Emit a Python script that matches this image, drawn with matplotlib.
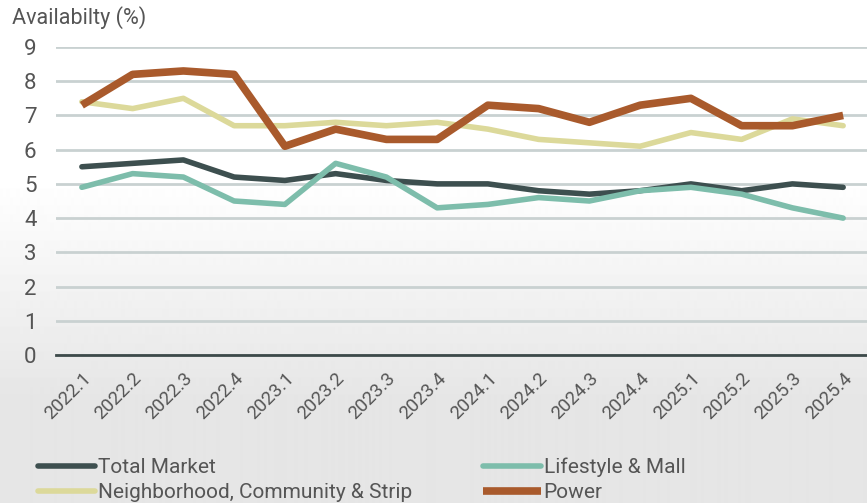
import matplotlib
matplotlib.use("Agg")
import matplotlib.pyplot as plt
import numpy as np

plt.rcParams['font.family'] = ['Roboto', 'DejaVu Sans']

# data
quarters = ['2022.1', '2022.2', '2022.3', '2022.4', '2023.1', '2023.2', '2023.3', '2023.4',
            '2024.1', '2024.2', '2024.3', '2024.4', '2025.1', '2025.2', '2025.3', '2025.4']
total_market = [5.5, 5.6, 5.7, 5.2, 5.1, 5.3, 5.1, 5.0, 5.0, 4.8, 4.7, 4.8, 5.0, 4.8, 5.0, 4.9]
lifestyle_mall = [4.9, 5.3, 5.2, 4.5, 4.4, 5.6, 5.2, 4.3, 4.4, 4.6, 4.5, 4.8, 4.9, 4.7, 4.3, 4.0]
neighborhood = [7.4, 7.2, 7.5, 6.7, 6.7, 6.8, 6.7, 6.8, 6.6, 6.3, 6.2, 6.1, 6.5, 6.3, 6.9, 6.7]
power = [7.3, 8.2, 8.3, 8.2, 6.1, 6.6, 6.3, 6.3, 7.3, 7.2, 6.8, 7.3, 7.5, 6.7, 6.7, 7.0]

fig = plt.figure(figsize=(8.67, 5.03), dpi=100)

# soft background: white at top fading to light grey
bg = fig.add_axes([0, 0, 1, 1], zorder=-1)
grad = np.ones((503, 1))
ramp = np.clip((np.arange(503) - 180) / 220, 0, 1)
grad[:, 0] = 1 - 0.1 * ramp
bg.imshow(grad, aspect='auto', cmap='gray', vmin=0, vmax=1, extent=[0, 1, 0, 1], origin='upper')
bg.axis('off')

ax = fig.add_axes([56/867, 148/503, 811/867, 308/503])
ax.set_facecolor('none')
x = np.arange(len(quarters))

l1, = ax.plot(x, total_market, color='#3d4f4f', lw=4, solid_capstyle='round', label='Total Market', zorder=3)
l2, = ax.plot(x, lifestyle_mall, color='#7dbdab', lw=4, solid_capstyle='round', label='Lifestyle & Mall', zorder=3)
l3, = ax.plot(x, neighborhood, color='#dcd99a', lw=4, solid_capstyle='round', label='Neighborhood, Community & Strip', zorder=3)
l4, = ax.plot(x, power, color='#a95a2c', lw=5.5, solid_capstyle='butt', label='Power', zorder=4)

ax.set_ylim(0, 9)
ax.set_xlim(-0.51, 15.47)
ax.set_yticks(range(0, 10))
ax.yaxis.grid(True, color='#c9d1d1', lw=2)
ax.set_axisbelow(True)
for s in ['top', 'right', 'left']:
    ax.spines[s].set_visible(False)
ax.spines['bottom'].set_color('#3d4a4a')
ax.spines['bottom'].set_linewidth(2)
ax.tick_params(axis='both', length=0, colors='#555555')
ax.tick_params(axis='y', labelsize=16, pad=14)
ax.set_xticks(x)
ax.set_xticklabels(quarters, rotation=45, ha='right', rotation_mode='anchor', fontsize=13.5)
ax.tick_params(axis='x', pad=10)

fig.text(12/867, 1 - 18/503, 'Availabilty (%)', fontsize=15.5, color='#555555', va='center')

leg = fig.legend([l1, l3, l2, l4], [l.get_label() for l in [l1, l3, l2, l4]],
                 loc='upper left', bbox_to_anchor=(0.022, 0.128), ncol=2, frameon=False,
                 fontsize=15, handlelength=2.75, handletextpad=0.15, columnspacing=3.4,
                 labelspacing=0.3)
for t in leg.get_texts():
    t.set_color('#555555')

fig.savefig('out.png', dpi=100)
